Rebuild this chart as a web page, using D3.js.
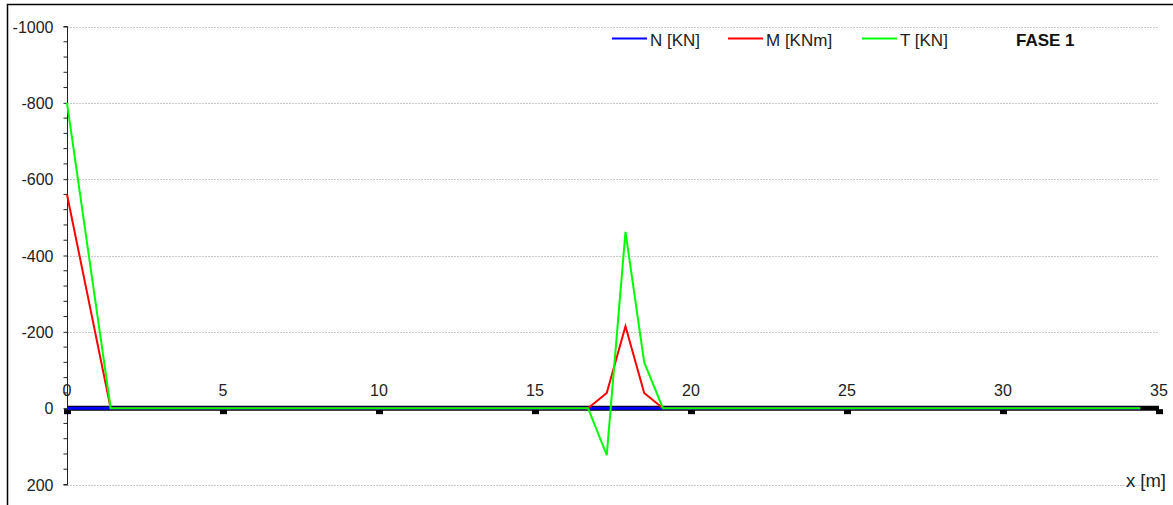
<!DOCTYPE html>
<html><head><meta charset="utf-8">
<script src="https://cdn.jsdelivr.net/npm/d3@7"></script>
<style>body{margin:0;background:#fff}svg{display:block}text{font-family:"Liberation Sans",Arial,sans-serif}</style>
</head><body><svg id="c" width="1173" height="505"></svg>
<script>
const xN = [0, 34.4];
const yN = [0, 0];
const xM = [0, 1.4, 16.7, 17.3, 17.9, 18.5, 19.1, 34.4];
const yM = [-560, 0, 0, -40, -215, -40, 0, 0];
const xT = [0, 1.4, 16.7, 17.3, 17.9, 18.5, 19.1, 34.4];
const yT = [-800, 0, 0, 123, -462, -120, 0, 0];
const xTicks = [0, 5, 10, 15, 20, 25, 30, 35];
const yTicks = [-1000, -800, -600, -400, -200, 0, 200];
const seriesNames = ["N [KN]", "M [KNm]", "T [KN]"];
const seriesColors = ["#0000ff", "#ff0000", "#00ff00"];
const phaseLabel = "FASE 1";
const xLabel = "x [m]";

const svg = d3.select("#c");
const x = d3.scaleLinear().domain([0, 35]).range([67, 1159]);
const y = d3.scaleLinear().domain([-1000, 200]).range([26.5, 484.5]);

// frame
svg.append("path").attr("d", "M7.5,505 V4.5 H1173").attr("fill", "none").attr("stroke", "#000").attr("stroke-width", 1.5);

// grid
svg.append("g").selectAll("line").data(yTicks.filter(d => d !== 0)).join("line")
  .attr("x1", x(0)).attr("x2", x(35)).attr("y1", d => Math.round(y(d)) + 0.5).attr("y2", d => Math.round(y(d)) + 0.5)
  .attr("stroke", "#c8c8c8").attr("stroke-dasharray", "2,1");

// y axis
const yAxis = d3.axisLeft(y).tickValues(yTicks).tickSize(4).tickPadding(10).tickFormat(d => String(d));
const gy = svg.append("g").attr("transform", `translate(${x(0) + 0.5},0)`).call(yAxis);
gy.select(".domain").attr("stroke", "#222").attr("d", `M-4,${y(-1000)}H0V${y(200)}H-4`);
gy.selectAll(".tick line").attr("stroke", "#222");
gy.selectAll(".tick text").attr("font-size", 16).attr("fill", "#222").style("font-family", "Liberation Sans, Arial, sans-serif").attr("dy", "0.35em");
const minor = d3.range(-1000, 201, 40).filter(v => yTicks.indexOf(v) < 0);
gy.append("g").selectAll("line").data(minor).join("line")
  .attr("x1", -4).attr("x2", 0).attr("y1", d => y(d)).attr("y2", d => y(d)).attr("stroke", "#222");

// beam baseline
svg.append("line").attr("x1", x(0)).attr("x2", x(35)).attr("y1", y(0)).attr("y2", y(0))
  .attr("stroke", "#000").attr("stroke-width", 5);
svg.append("g").selectAll("rect").data(xTicks).join("rect")
  .attr("x", d => x(d) - 3).attr("y", y(0) + 1).attr("width", 7).attr("height", 5).attr("fill", "#000");

// x tick labels
svg.append("g").selectAll("text").data(xTicks).join("text")
  .attr("x", d => x(d)).attr("y", y(0) - 12).attr("text-anchor", "middle").attr("font-size", 16).attr("fill", "#222").text(d => d);

// series
const line = d3.line().x(d => x(d[0])).y(d => y(d[1]));
const series = [d3.zip(xN, yN), d3.zip(xM, yM), d3.zip(xT, yT)];
series.forEach((s, i) => {
  svg.append("path").datum(s).attr("d", line).attr("fill", "none")
    .attr("stroke", seriesColors[i]).attr("stroke-width", i === 0 ? 3 : 2);
});

// legend
const legX = [612, 728, 862];
seriesNames.forEach((n, i) => {
  svg.append("line").attr("x1", legX[i]).attr("x2", legX[i] + 35).attr("y1", 38.5).attr("y2", 38.5)
    .attr("stroke", seriesColors[i]).attr("stroke-width", 2);
  svg.append("text").attr("x", legX[i] + 38).attr("y", 45.5).attr("font-size", 17).attr("fill", "#222").text(n);
});
svg.append("text").attr("x", 1016).attr("y", 45.5).attr("font-size", 17).attr("font-weight", "bold").attr("fill", "#111").text(phaseLabel);

svg.append("text").attr("x", 1166).attr("y", 487).attr("text-anchor", "end").attr("font-size", 18.5).attr("fill", "#222").text(xLabel);
</script></body></html>
